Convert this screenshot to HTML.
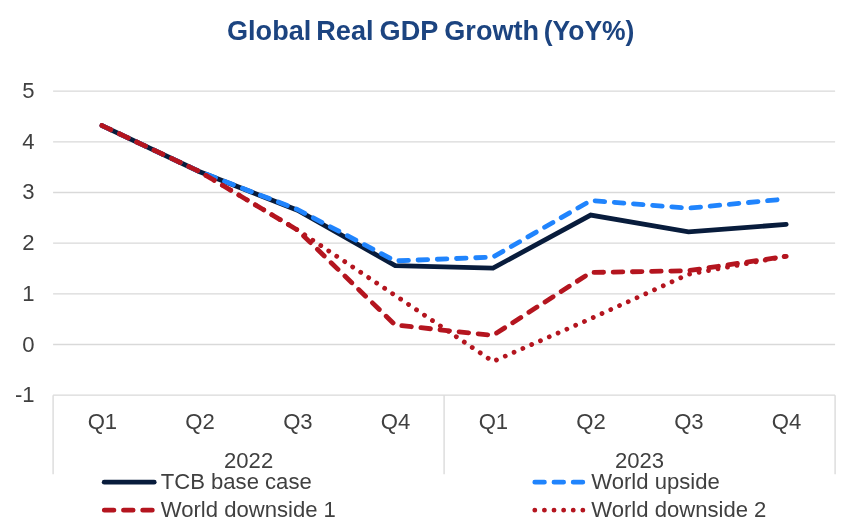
<!DOCTYPE html>
<html><head><meta charset="utf-8"><title>Global Real GDP Growth</title>
<style>
html,body{margin:0;padding:0;background:#fff;}
body{width:861px;height:523px;overflow:hidden;font-family:"Liberation Sans",sans-serif;}
svg{display:block;will-change:transform;}
svg text{font-family:"Liberation Sans",sans-serif;}
.ax text{font-size:22.1px;fill:#404040;}
.grid line{stroke:#d9d9d9;stroke-width:1.33;}
.s{fill:none;stroke-width:4.8;stroke-linecap:round;stroke-linejoin:round;}
</style></head><body>
<svg width="861" height="523" viewBox="0 0 861 523">
<rect width="861" height="523" fill="#fff"/>
<text transform="matrix(1 0 0 1.020 0 -0.80)" x="227.0" y="40.0" font-size="27.1" font-weight="bold" fill="#1c4480" xml:space="preserve">Global <tspan x="316.3">Real </tspan><tspan x="379.6">GDP </tspan><tspan x="444.3">Growth </tspan><tspan x="543.7" font-size="26.5">(YoY%)</tspan></text>
<g class="grid"><line x1="53.1" x2="835.1" y1="91.1" y2="91.1"/><line x1="53.1" x2="835.1" y1="141.8" y2="141.8"/><line x1="53.1" x2="835.1" y1="192.5" y2="192.5"/><line x1="53.1" x2="835.1" y1="243.2" y2="243.2"/><line x1="53.1" x2="835.1" y1="293.8" y2="293.8"/><line x1="53.1" x2="835.1" y1="344.5" y2="344.5"/><line x1="53.1" x2="835.1" y1="395.2" y2="395.2"/><line x1="53.1" x2="53.1" y1="395.2" y2="474.2"/><line x1="444.1" x2="444.1" y1="395.2" y2="474.2"/><line x1="835.1" x2="835.1" y1="395.2" y2="474.2"/></g>
<g class="ax"><text transform="matrix(1 0 0 1.035 0 -3.44)" x="34.6" y="98.1" text-anchor="end">5</text><text transform="matrix(1 0 0 1.035 0 -5.21)" x="34.6" y="148.8" text-anchor="end">4</text><text transform="matrix(1 0 0 1.035 0 -6.98)" x="34.6" y="199.5" text-anchor="end">3</text><text transform="matrix(1 0 0 1.035 0 -8.76)" x="34.6" y="250.2" text-anchor="end">2</text><text transform="matrix(1 0 0 1.035 0 -10.53)" x="34.6" y="300.8" text-anchor="end">1</text><text transform="matrix(1 0 0 1.035 0 -12.30)" x="34.6" y="351.5" text-anchor="end">0</text><text transform="matrix(1 0 0 1.035 0 -14.08)" x="34.6" y="402.2" text-anchor="end">-1</text><text transform="matrix(1 0 0 1.035 0 -15.00)" x="102.4" y="428.6" text-anchor="middle">Q1</text><text transform="matrix(1 0 0 1.035 0 -15.00)" x="200.1" y="428.6" text-anchor="middle">Q2</text><text transform="matrix(1 0 0 1.035 0 -15.00)" x="297.9" y="428.6" text-anchor="middle">Q3</text><text transform="matrix(1 0 0 1.035 0 -15.00)" x="395.6" y="428.6" text-anchor="middle">Q4</text><text transform="matrix(1 0 0 1.035 0 -15.00)" x="493.4" y="428.6" text-anchor="middle">Q1</text><text transform="matrix(1 0 0 1.035 0 -15.00)" x="591.1" y="428.6" text-anchor="middle">Q2</text><text transform="matrix(1 0 0 1.035 0 -15.00)" x="688.9" y="428.6" text-anchor="middle">Q3</text><text transform="matrix(1 0 0 1.035 0 -15.00)" x="786.6" y="428.6" text-anchor="middle">Q4</text><text transform="matrix(1 0 0 1.035 0 -16.39)" x="248.6" y="468.3" text-anchor="middle">2022</text><text transform="matrix(1 0 0 1.035 0 -16.39)" x="639.6" y="468.3" text-anchor="middle">2023</text></g>
<polyline class="s" style="stroke-width:4.8;stroke-linejoin:miter" stroke="#081c3c" points="102.0,125.6 199.7,171.7 297.5,210.2 395.2,265.6 493.0,268.1 590.7,215.1 688.5,231.8 786.2,224.4"/>
<polyline class="s" stroke="#2084fd" stroke-dasharray="9.6 9.63" points="102.0,125.6 199.7,171.7 297.5,209.5 395.2,260.9 493.0,257.1 590.7,200.6 688.5,208.2 786.2,198.9"/>
<polyline class="s" stroke="#b4151f" stroke-dasharray="9.6 9.6" points="102.0,125.6 199.7,171.7 297.5,230.0 395.2,325.0 493.0,335.4 590.7,272.5 688.5,270.7 786.2,256.3"/>
<polyline class="s" stroke="#b4151f" stroke-dasharray="0.01 9.6" points="102.0,125.6 199.7,171.7 297.5,230.0 395.2,295.4 493.0,361.5 590.7,318.7 688.5,274.3 786.2,256.3"/>
<g class="ax">
<line class="s" style="stroke-width:4.8" stroke="#081c3c" x1="104.2" x2="154.2" y1="482.2" y2="482.2"/>
<text transform="matrix(1 0 0 1.035 0 -17.12)" x="160.7" y="489.1">TCB base case</text>
<line class="s" stroke="#b4151f" stroke-dasharray="9.6 9.6" x1="104.3" x2="152.3" y1="510.2" y2="510.2"/>
<text transform="matrix(1 0 0 1.035 0 -18.08)" x="160.7" y="516.7">World downside 1</text>
<line class="s" stroke="#2084fd" stroke-dasharray="9.6 9.6" x1="534.8" x2="582.8" y1="482.2" y2="482.2"/>
<text transform="matrix(1 0 0 1.035 0 -17.12)" x="591.2" y="489.1">World upside</text>
<line class="s" stroke="#b4151f" stroke-dasharray="0.01 9.6" x1="534.8" x2="583.0" y1="510.2" y2="510.2"/>
<text transform="matrix(1 0 0 1.035 0 -18.08)" x="591.2" y="516.7">World downside 2</text>
</g>
</svg>
</body></html>
